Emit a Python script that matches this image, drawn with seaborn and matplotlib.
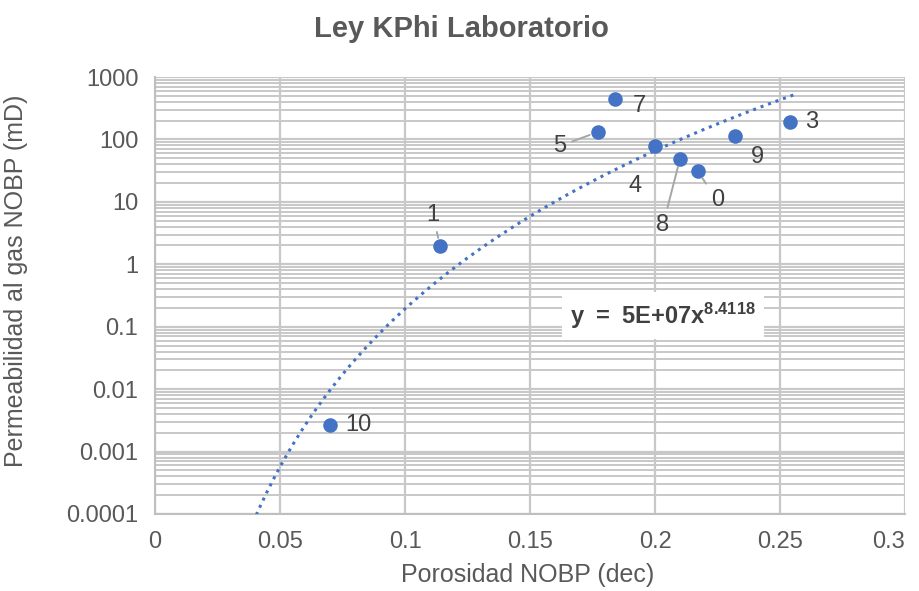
import numpy as np
import pandas as pd
import seaborn as sns
import matplotlib.pyplot as plt
from matplotlib.ticker import LogLocator, FixedLocator, NullFormatter

# datos
muestra = ["0", "1", "3", "4", "5", "7", "8", "9", "10"]
porosidad = [0.217, 0.114, 0.254, 0.200, 0.177, 0.184, 0.210, 0.232, 0.070]
permeabilidad = [31, 1.96, 190, 78, 131, 444, 49, 113, 0.0027]

# ajuste potencial mostrado en el grafico: y = a * x^b
coef_a = 5e7
coef_b = 8.4118
x_tend = [0.0405, 0.256]

# desplazamiento de las etiquetas (pixeles)
off = {"0": (20, -29), "1": (-7, 31), "3": (22, 0), "4": (-20, -40),
       "5": (-38, -14), "7": (24, -7), "8": (-17, -66), "9": (22, -21),
       "10": (28, 0)}
leader = ["0", "1", "5", "8"]

sns.set_style("white")
plt.rcParams['font.family'] = ['Liberation Sans', 'DejaVu Sans']
plt.rcParams['mathtext.fontset'] = 'custom'
plt.rcParams['mathtext.bf'] = 'Liberation Sans:bold'
plt.rcParams['mathtext.rm'] = 'Liberation Sans'

df = pd.DataFrame({"x": porosidad, "y": permeabilidad, "lab": muestra})

xs = np.linspace(x_tend[0], x_tend[1], 200)
tend = pd.DataFrame({"x": xs, "y": coef_a * xs ** coef_b})

fig = plt.figure(figsize=(9.19, 5.91), dpi=100)
ax = fig.add_axes([0.1687, 0.1303, 0.8161, 0.7394])

azul = "#4472C4"
gris = "#595959"

ax.set_yscale("log")
ax.set_xlim(0, 0.3)
ax.set_ylim(1e-4, 1e3)

ax.xaxis.set_major_locator(FixedLocator([0, 0.05, 0.1, 0.15, 0.2, 0.25, 0.3]))
ax.yaxis.set_major_locator(LogLocator(base=10, numticks=20))
ax.yaxis.set_minor_locator(LogLocator(base=10, subs=np.arange(2, 10), numticks=20))
ax.yaxis.set_minor_formatter(NullFormatter())
ax.set_xticklabels(["0", "0.05", "0.1", "0.15", "0.2", "0.25", "0.3"])
ax.set_yticks([1e-4, 1e-3, 1e-2, 1e-1, 1, 10, 100, 1000])
ax.set_yticklabels(["0.0001", "0.001", "0.01", "0.1", "1", "10", "100", "1000"])
ax.get_xticklabels()[-1].set_ha("right")

ax.grid(which="major", axis="both", color="#c8c8c8", linewidth=1.6)
ax.grid(which="minor", axis="y", color="#c8c8c8", linewidth=1.4)
ax.set_axisbelow(True)
ax.tick_params(which="both", length=0, labelsize=17, labelcolor=gris, pad=12)
for s in ["top", "right"]:
    ax.spines[s].set_visible(False)
for s in ["left", "bottom"]:
    ax.spines[s].set_color("#bfbfbf")
    ax.spines[s].set_linewidth(1.5)

sns.lineplot(data=tend, x="x", y="y", ax=ax, color=azul, linestyle=(0, (1, 1.6)),
             linewidth=2.2, zorder=3)
sns.scatterplot(data=df, x="x", y="y", ax=ax, color=azul, s=110, edgecolor=azul,
                linewidth=0, zorder=4)

for _, r in df.iterrows():
    dx, dy = off[r["lab"]]
    props = None
    if r["lab"] in leader:
        props = dict(arrowstyle="-", color="#a6a6a6", lw=1.4, shrinkA=2, shrinkB=6)
    ax.annotate(r["lab"], (r["x"], r["y"]), xytext=(dx, dy), textcoords="offset pixels",
                ha="center", va="center", fontsize=17, color="#404040",
                arrowprops=props, zorder=5)

ax.text(0.2032, 0.15, r"$\mathbf{y\ =\ 5E{+}07x^{8.4118}}$", fontsize=17, color="#404040",
        ha="center", va="center",
        bbox=dict(boxstyle="square,pad=0.35", facecolor="white", edgecolor="none"), zorder=5)

ax.set_xlabel("Porosidad NOBP (dec)", fontsize=18, color=gris)
ax.xaxis.set_label_coords(0.497, -0.112)
ax.set_ylabel("Permeabilidad al gas NOBP (mD)", fontsize=18, color=gris)
ax.yaxis.set_label_coords(-0.169, 0.533)
fig.text(0.502, 0.975, "Ley KPhi Laboratorio", fontsize=21, fontweight="bold",
         color=gris, ha="center", va="top")

plt.savefig("out.png", dpi=100, facecolor="w")
